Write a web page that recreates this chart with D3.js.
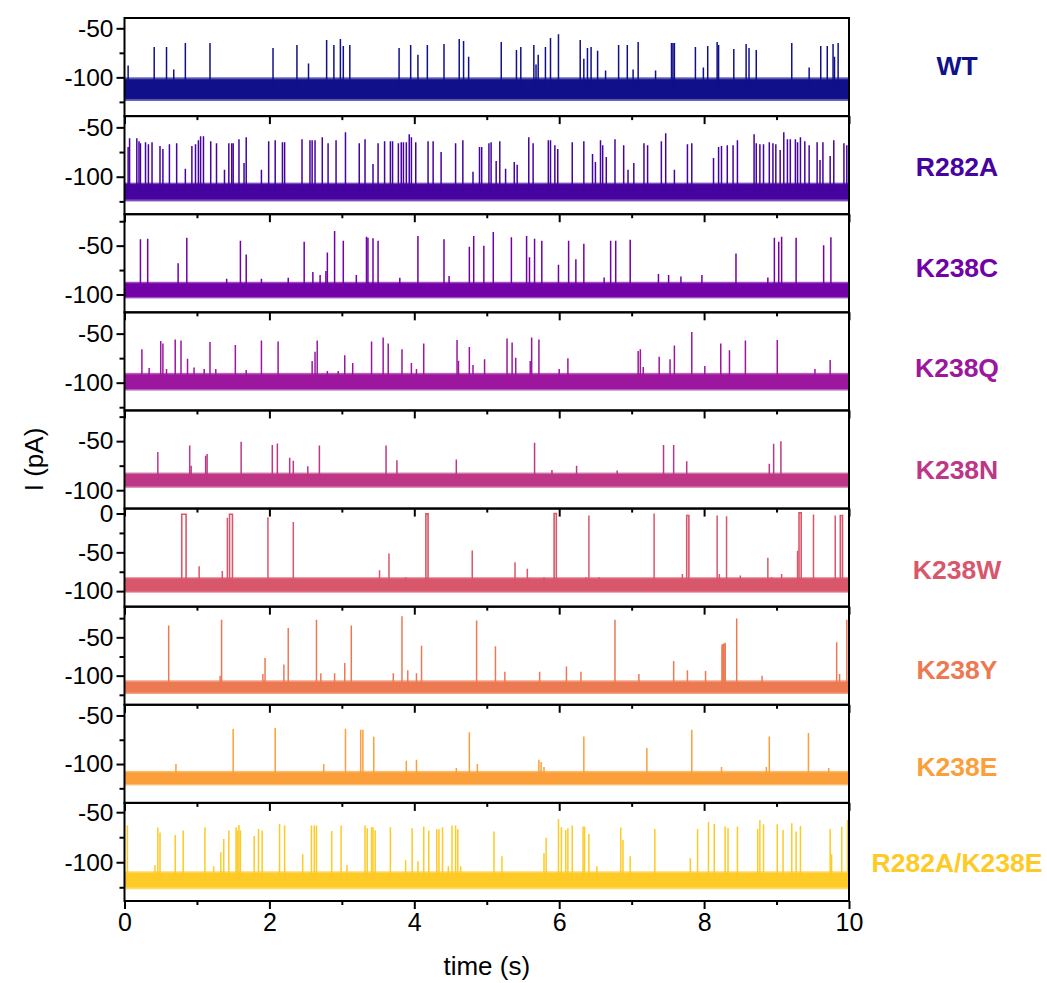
<!DOCTYPE html>
<html><head><meta charset="utf-8">
<script src="https://cdn.jsdelivr.net/npm/d3@7"></script>
<style>body{margin:0;background:#fff}svg{display:block}</style>
</head><body>
<script>
// ---------- DATA ----------
const names = ["WT","R282A","K238C","K238Q","K238N","K238W","K238Y","K238E","R282A/K238E"];
const colors = ["#10108a","#46039f","#7201a8","#9c179e","#bd3786","#d8576b","#ed7953","#fb9f3a","#fdca26"];
const yDomains = [[-139.5,-39.5],[-138,-38.6],[-118.3,-17.8],[-128.3,-28.3],[-118.7,-18.7],[-120,6.4],[-138,-10],[-140,-39],[-138.7,-40.7]];
const yMajor = [[-100,-50],[-100,-50],[-100,-50],[-100,-50],[-100,-50],[-100,-50,0],[-100,-50],[-100,-50],[-100,-50]];
const yMinor = [[-125,-75],[-125,-75],[-75,-25],[-125,-75],[-75,-25],[-75,-25],[-125,-75,-25],[-125,-75],[-125,-75]];
const xMajor = [0,2,4,6,8,10];
const xMinor = [1,3,5,7,9];
// noise band of the closed-state baseline: [low, high] outer and core (pA)
const bandOuter = [[-124,-100],[-125,-106],[-104,-87],[-108,-90],[-97.5,-82],[-102,-82],[-124,-106],[-122,-107],[-127,-109]];
const bandCore  = [[-122,-102],[-123,-107.5],[-102.5,-88.5],[-106.5,-91.5],[-96,-83.5],[-100.5,-83.5],[-122,-108],[-120.5,-108.5],[-125,-110.5]];
// opening events: [time (s), peak current (pA)]
const spikesWT = [[0.05,-88],[0.41,-69],[0.58,-69],[0.68,-92],[0.84,-65],[1.18,-65],[2.05,-70],[2.38,-67],[2.54,-86],[2.79,-62],[2.89,-67],[2.98,-61],[3.02,-68],[3.11,-67],[3.79,-70],[3.95,-67],[4.05,-77],[4.18,-67],[4.41,-66],[4.62,-61],[4.68,-63],[4.75,-79],[5.2,-64],[5.41,-72],[5.47,-69],[5.65,-67],[5.68,-87],[5.71,-77],[5.81,-69],[5.88,-60],[5.99,-56],[6.29,-62],[6.34,-81],[6.39,-70],[6.44,-69],[6.53,-73],[6.64,-93],[6.82,-67],[6.94,-67],[7.02,-92],[7.09,-64],[7.33,-93],[7.55,-65],[7.57,-65],[7.59,-65],[7.88,-69],[7.99,-90],[8.05,-68],[8.18,-64],[8.2,-67],[8.41,-71],[8.58,-66],[8.62,-70],[8.72,-72],[9.21,-65],[9.45,-90],[9.61,-68],[9.7,-68],[9.78,-66],[9.8,-79],[9.85,-65]];
const spikesR282A = [[0.05,-70],[0.07,-61],[0.17,-61],[0.2,-64],[0.22,-66],[0.29,-65],[0.33,-67],[0.38,-65],[0.49,-69],[0.53,-72],[0.62,-67],[0.72,-66],[0.84,-92],[0.93,-69],[0.98,-67],[1.02,-63],[1.05,-59],[1.09,-59],[1.19,-64],[1.27,-66],[1.38,-93],[1.44,-66],[1.48,-66],[1.5,-66],[1.58,-62],[1.65,-86],[1.68,-60],[1.89,-93],[1.99,-64],[2.08,-63],[2.18,-65],[2.21,-65],[2.45,-62],[2.56,-63],[2.59,-63],[2.63,-63],[2.73,-60],[2.81,-66],[2.92,-63],[3.05,-55],[3.24,-66],[3.32,-62],[3.43,-87],[3.5,-66],[3.59,-64],[3.67,-64],[3.7,-64],[3.78,-66],[3.82,-65],[3.85,-65],[3.89,-65],[3.93,-57],[3.96,-60],[4.02,-65],[4.19,-64],[4.26,-64],[4.37,-75],[4.57,-66],[4.67,-63],[4.81,-95],[4.9,-70],[4.93,-70],[5.03,-66],[5.06,-65],[5.13,-84],[5.18,-64],[5.26,-92],[5.38,-85],[5.42,-88],[5.58,-60],[5.64,-66],[5.85,-63],[5.88,-63],[5.94,-68],[5.98,-72],[6.18,-65],[6.34,-64],[6.46,-77],[6.5,-85],[6.57,-63],[6.6,-68],[6.65,-80],[6.77,-62],[6.89,-68],[6.95,-93],[7.03,-86],[7.17,-66],[7.22,-68],[7.41,-64],[7.47,-56],[7.59,-93],[7.77,-67],[7.83,-66],[8.13,-81],[8.2,-70],[8.24,-69],[8.32,-68],[8.4,-68],[8.46,-63],[8.69,-57],[8.72,-66],[8.77,-67],[8.82,-67],[8.9,-65],[8.95,-66],[8.99,-67],[9.05,-73],[9.1,-55],[9.15,-62],[9.19,-62],[9.26,-62],[9.29,-65],[9.33,-60],[9.39,-64],[9.45,-68],[9.56,-65],[9.6,-83],[9.64,-65],[9.74,-79],[9.79,-63],[9.93,-66],[9.97,-68]];
const spikesK238C = [[0.22,-43.5],[0.32,-43],[0.74,-68],[0.86,-42],[1.41,-84],[1.6,-45],[1.68,-59],[1.89,-84],[2.26,-83],[2.48,-46],[2.6,-77],[2.7,-80],[2.78,-76],[2.8,-57],[2.9,-35],[3.02,-45],[3.2,-80],[3.34,-41],[3.36,-42],[3.43,-42.5],[3.5,-45],[3.8,-83],[4.05,-40],[4.41,-43.5],[4.48,-81],[4.76,-51],[4.82,-40],[4.96,-50],[5.09,-36],[5.34,-41.5],[5.55,-40],[5.59,-62],[5.66,-43],[5.76,-45],[5.99,-69.5],[6.13,-45],[6.23,-64],[6.34,-48],[6.62,-82.5],[6.71,-45],[6.78,-45],[6.98,-44],[7.37,-79],[7.51,-80],[7.68,-81.6],[7.97,-80],[8.44,-58],[8.88,-82.7],[8.97,-42],[9.03,-46],[9.07,-41],[9.27,-42],[9.65,-49.6],[9.75,-41.5]];
const spikesK238Q = [[0.24,-66],[0.34,-85],[0.5,-57.5],[0.53,-60],[0.58,-86],[0.7,-56],[0.78,-57],[0.87,-75.5],[0.96,-84.5],[1.1,-86],[1.18,-58.5],[1.26,-86],[1.53,-61.6],[1.68,-87],[1.89,-57],[2.12,-58],[2.59,-78],[2.63,-68.4],[2.66,-57],[2.8,-88],[2.95,-88],[3.04,-72],[3.15,-80],[3.41,-58],[3.57,-54],[3.64,-60],[3.83,-66],[3.96,-80],[4.03,-86],[4.13,-60],[4.59,-56.5],[4.61,-77.7],[4.76,-63.7],[4.81,-82],[4.97,-76],[5.28,-55],[5.35,-59],[5.4,-74.5],[5.6,-78],[5.62,-54],[5.72,-56],[6.0,-86],[6.12,-75],[7.09,-67.7],[7.12,-66],[7.16,-84],[7.38,-73.5],[7.53,-76],[7.59,-62],[7.83,-48.4],[8.01,-83],[8.23,-60],[8.35,-67],[8.57,-57],[9.01,-56.5],[9.53,-86],[9.74,-77]];
const spikesK238N = [[0.46,-61],[0.9,-54.4],[0.92,-75],[1.12,-65],[1.14,-63],[1.61,-50.6],[2.04,-54],[2.11,-52.3],[2.28,-67],[2.33,-70],[2.53,-75.5],[2.69,-54.4],[3.61,-54.4],[3.76,-69.4],[4.58,-68.7],[5.66,-51.6],[5.9,-79.5],[6.24,-75],[6.8,-80],[7.44,-54],[7.58,-54],[7.76,-70.4],[8.9,-73],[8.96,-52.6],[9.06,-50]];
const spikesK238W = [[1.03,-68],[1.35,-74],[1.42,-5.6],[1.98,-4.7],[2.33,-11],[3.52,-73],[3.65,-51.5],[3.88,-82],[4.8,-47.6],[5.39,-62.7],[5.56,-71],[5.79,-82],[6.37,-82],[6.41,-2.6],[6.55,-82],[7.31,0],[7.7,-78],[8.18,-2.6],[8.21,-78],[8.31,-3.4],[8.5,-80],[8.88,-57],[8.93,-82],[9.07,-78],[9.29,-48],[9.51,-1.3],[9.81,-2.6]];
const spikesK238Y = [[0.61,-34.7],[1.32,-100],[1.34,-27],[1.91,-98],[1.94,-77],[2.2,-85.6],[2.26,-37.7],[2.65,-27],[2.71,-97],[2.9,-97],[3.04,-83.4],[3.13,-34.7],[3.71,-97],[3.83,-22.6],[3.91,-93],[4.03,-97],[4.1,-61],[4.86,-28],[5.12,-61.7],[5.25,-95],[5.73,-95],[6.1,-88],[6.3,-95],[6.77,-27],[7.1,-98],[7.58,-81],[7.77,-93],[8.02,-94],[8.25,-62],[8.27,-58],[8.29,-57],[8.45,-25.6],[8.8,-100],[9.83,-56.5],[9.87,-98],[9.97,-27]];
const spikesK238E = [[0.71,-100],[1.5,-64],[2.08,-63],[2.75,-100],[3.05,-63.7],[3.26,-64.7],[3.29,-64.7],[3.44,-72],[3.89,-96.6],[4.03,-95.6],[4.58,-104],[4.76,-67.4],[4.87,-100],[5.72,-95.6],[5.75,-98],[5.79,-103],[6.34,-71.6],[7.21,-83.5],[7.83,-64.7],[8.24,-103],[8.86,-103],[8.9,-71.6],[9.44,-68],[9.72,-104]];
const spikesDouble = [[0.04,-63.4],[0.42,-103],[0.46,-65.4],[0.49,-70.4],[0.7,-72.7],[0.81,-68.4],[1.11,-65],[1.23,-104],[1.33,-90],[1.37,-76.7],[1.44,-68.4],[1.54,-65],[1.56,-68],[1.58,-62.7],[1.6,-68],[1.79,-73.7],[1.85,-66.7],[1.9,-68.4],[2.14,-61.7],[2.21,-63.4],[2.46,-92],[2.58,-63.4],[2.62,-63.4],[2.65,-63.4],[2.86,-68.7],[2.99,-63.4],[3.07,-103],[3.32,-63.4],[3.35,-66],[3.41,-65],[3.43,-65],[3.46,-68],[3.67,-65],[3.88,-98],[3.97,-66],[4.05,-99],[4.13,-64.4],[4.2,-68.4],[4.31,-67],[4.34,-67],[4.39,-65],[4.47,-104],[4.52,-63.4],[4.57,-63.4],[4.6,-66.7],[4.64,-104],[5.1,-69.4],[5.21,-94],[5.79,-91],[5.82,-75.4],[5.99,-56.7],[6.03,-65],[6.09,-67.7],[6.12,-66],[6.18,-63.4],[6.33,-64.4],[6.35,-64.4],[6.41,-71.7],[6.52,-104],[6.85,-65.4],[6.88,-77.7],[6.98,-94],[7.32,-66.7],[7.81,-96],[7.91,-66.7],[8.06,-59.7],[8.14,-61.7],[8.29,-64.4],[8.33,-66],[8.46,-64.4],[8.74,-66.7],[8.77,-57.7],[8.82,-62],[9.01,-62],[9.09,-67.7],[9.21,-61],[9.27,-69.4],[9.33,-63.7],[9.74,-66.7],[9.76,-92],[9.9,-64.4],[9.98,-57.7]];
const spikes = [spikesWT,spikesR282A,spikesK238C,spikesK238Q,spikesK238N,spikesK238W,spikesK238Y,spikesK238E,spikesDouble];
// long openings: [start (s), end (s), peak (pA)]
const longK238W = [[0.79,0.85,-1],[1.45,1.49,-1],[4.16,4.19,-0.5],[5.93,5.96,0],[7.76,7.79,-2.6],[9.31,9.34,1],[9.88,9.91,-2.6]];
const longK238Y = [[8.25,8.29,-60]];
const longEvents = [[],[],[],[],[],longK238W,longK238Y,[],[]];

// ---------- LAYOUT ----------
const W = 1047, H = 983;
const plotLeft = 124.5, plotRight = 849, plotTop = 18, plotBottom = 901;
const panelH = (plotBottom - plotTop) / names.length;
const labelDy = [8,11,14,16,19,21,23,22,20];
const FONT = "'Liberation Sans', Arial, sans-serif";

const svg = d3.select("body").append("svg").attr("width", W).attr("height", H)
  .style("font-family", FONT);

const x = d3.scaleLinear().domain([0,10]).range([plotLeft,plotRight]);

names.forEach((name, i) => {
  const y0 = plotTop + i*panelH, y1 = y0 + panelH;
  const y = d3.scaleLinear().domain(yDomains[i]).range([y1, y0]);
  const g = svg.append("g");
  const col = colors[i];
  const clipId = "clip"+i;
  svg.append("clipPath").attr("id", clipId).append("rect")
    .attr("x", plotLeft).attr("y", y0).attr("width", plotRight-plotLeft).attr("height", panelH);
  const pg = g.append("g").attr("clip-path", `url(#${clipId})`);

  pg.append("rect").attr("x", x(0)).attr("width", x(10)-x(0))
    .attr("y", y(bandOuter[i][1])).attr("height", y(bandOuter[i][0]) - y(bandOuter[i][1]))
    .attr("fill", col).attr("opacity", 0.7);
  pg.append("rect").attr("x", x(0)).attr("width", x(10)-x(0))
    .attr("y", y(bandCore[i][1])).attr("height", y(bandCore[i][0]) - y(bandCore[i][1]))
    .attr("fill", col);

  const base = (bandCore[i][0] + bandCore[i][1]) / 2;
  pg.selectAll("line.sp").data(spikes[i]).enter().append("line")
    .attr("x1", d => x(d[0])).attr("x2", d => x(d[0]))
    .attr("y1", y(base)).attr("y2", d => y(d[1]))
    .attr("stroke", col).attr("stroke-width", 1.5);

  pg.selectAll("path.ev").data(longEvents[i]).enter().append("path")
    .attr("d", d => d3.line()([[x(d[0]), y(base)],[x(d[0]), y(d[2])],[x(d[1]), y(d[2])],[x(d[1]), y(base)]]))
    .attr("fill", "none").attr("stroke", col).attr("stroke-width", 1.6);

  const ax = g.append("g").attr("transform", `translate(${plotLeft},0)`);
  ax.call(d3.axisLeft(y).tickValues(yMajor[i]).tickSize(8).tickPadding(3).tickFormat(d => String(d)));
  ax.select(".domain").remove();
  ax.selectAll("text").attr("font-size", 24.5).attr("fill", "#000").attr("font-family", FONT);
  ax.selectAll("line").attr("stroke-width", 2);
  const axm = g.append("g").attr("transform", `translate(${plotLeft},0)`);
  axm.call(d3.axisLeft(y).tickValues(yMinor[i]).tickSize(5).tickFormat(""));
  axm.select(".domain").remove();
  axm.selectAll("line").attr("stroke-width", 2);

  const bx = g.append("g").attr("transform", `translate(0,${y1})`);
  bx.call(d3.axisBottom(x).tickValues(xMajor).tickSize(8).tickPadding(4).tickFormat(i === names.length-1 ? d => String(d) : ""));
  bx.select(".domain").remove();
  bx.selectAll("line").attr("stroke-width", 2);
  bx.selectAll("text").attr("font-size", 25).attr("fill", "#000").attr("font-family", FONT);
  const bxm = g.append("g").attr("transform", `translate(0,${y1})`);
  bxm.call(d3.axisBottom(x).tickValues(xMinor).tickSize(4).tickFormat(""));
  bxm.select(".domain").remove();
  bxm.selectAll("line").attr("stroke-width", 2);

  g.append("rect").attr("x", plotLeft).attr("y", y0).attr("width", plotRight-plotLeft).attr("height", panelH)
    .attr("fill", "none").attr("stroke", "#000").attr("stroke-width", 2);

  svg.append("text").attr("x", 957).attr("y", y0 + panelH/2 + labelDy[i])
    .attr("text-anchor", "middle").attr("font-weight", "bold").attr("font-size", 26.5)
    .attr("fill", col).text(name);
});

svg.append("text").attr("x", (plotLeft+plotRight)/2).attr("y", 975).attr("text-anchor", "middle")
  .attr("font-size", 26).text("time (s)");
svg.append("text").attr("transform", `translate(43,${(plotTop+plotBottom)/2}) rotate(-90)`)
  .attr("text-anchor", "middle").attr("font-size", 26).text("I (pA)");
</script>
</body></html>
